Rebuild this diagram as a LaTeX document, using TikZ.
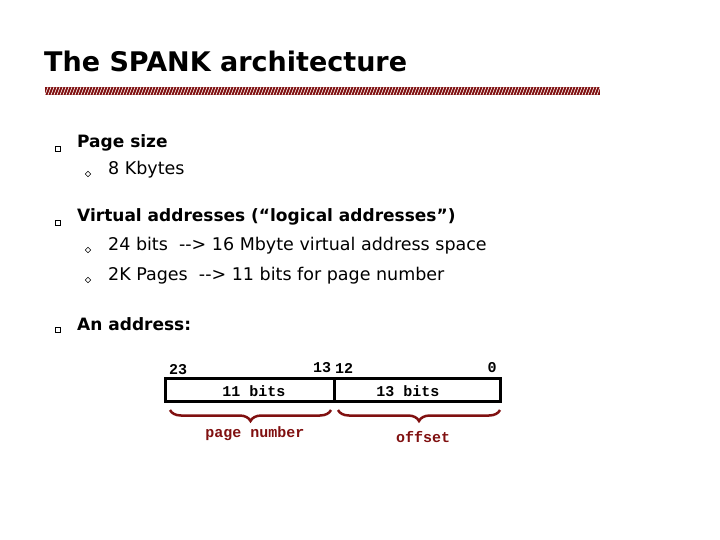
\documentclass[tikz,border=0pt]{standalone}
\usepackage{fontspec}
\setmainfont{DejaVu Sans}
\setmonofont{Liberation Mono}
\usetikzlibrary{decorations.pathreplacing}
\definecolor{darkred}{RGB}{128,16,16}
\tikzset{
  txt/.style={anchor=west,inner sep=0pt,font=\fontsize{17.5}{17.5}\selectfont},
  head/.style={anchor=west,inner sep=0pt,font=\bfseries\fontsize{17}{17}\selectfont},
  bul/.style={draw,line width=0.6pt,minimum size=5pt,inner sep=0pt},
  dia/.style={draw,line width=0.5pt,minimum size=4pt,inner sep=0pt,rotate=45},
  bits/.style={font=\ttfamily\bfseries\fontsize{15}{15}\selectfont,inner sep=0pt},
  brace/.style={decorate,decoration={brace,mirror,amplitude=11pt},darkred,line width=2.5pt}
}
\begin{document}
\begin{tikzpicture}[x=1pt,y=-1pt]
\useasboundingbox (0,0) rectangle (720,540);
% Titel
\node[anchor=west,inner sep=0pt,font=\bfseries\fontsize{27}{27}\selectfont] (title) at (44,61) {The SPANK architecture};
\fill[darkred] (45,87) rectangle (600,95);
\foreach \i in {45,48,...,597} \draw[white,line width=0.6pt] (\i,95) -- (\i+3,87);
% Punkte
\node[bul] (b1) at (58,149) {};
\node[head] (t1) at (77,143) {Page size};
\node[dia] (d1) at (88,174) {};
\node[txt] (t11) at (108,170) {8 Kbytes};
\node[bul] (b2) at (58,223) {};
\node[head] (t2) at (77,217) {Virtual addresses (“logical addresses”)};
\node[dia] (d2) at (88,250) {};
\node[txt] (t21) at (108,246) {24 bits~ -{}-> 16 Mbyte virtual address space};
\node[dia] (d3) at (88,280) {};
\node[txt] (t22) at (108,276) {2K Pages~ -{}-> 11 bits for page number};
\node[bul] (b3) at (58,330) {};
\node[head] (t3) at (77,324) {An address:};
% Adresse
\draw[line width=3pt] (165,378) rectangle (500,401);
\draw[line width=3pt] (334,378) -- (334,401);
\node[bits] (n23) at (178,370) {23};
\node[bits] (n13) at (322,368) {13};
\node[bits] (n12) at (344,368) {12};
\node[bits] (n0) at (492,368) {0};
\node[bits] (pg) at (254,391) {11 bits};
\node[bits] (of) at (408,391) {13 bits};
\draw[brace] (170,410) -- (331,410);
\draw[brace] (338,410) -- (500,410);
\node[bits,darkred] (pn) at (255,434) {page number};
\node[bits,darkred] (os) at (423,437) {offset};
\end{tikzpicture}
\end{document}
